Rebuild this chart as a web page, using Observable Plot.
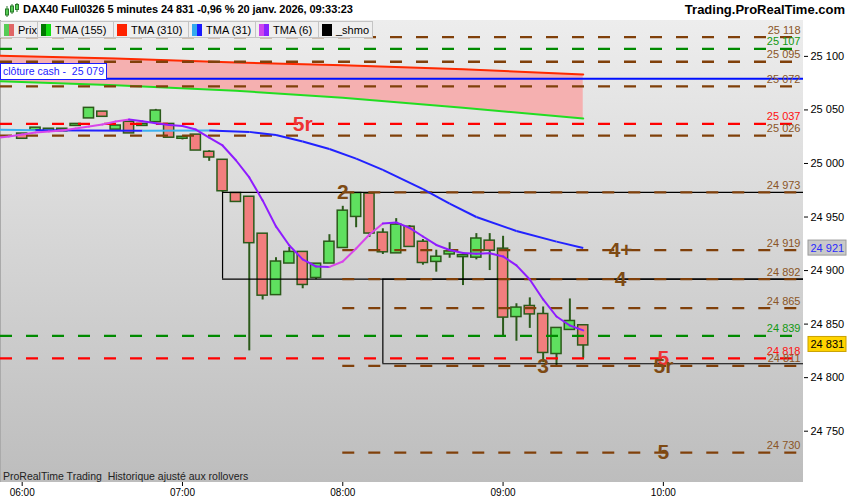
<!DOCTYPE html>
<html><head><meta charset="utf-8">
<script src="https://cdn.jsdelivr.net/npm/d3@7"></script>
<script src="https://cdn.jsdelivr.net/npm/@observablehq/plot@0.6"></script>
<style>
body{margin:0;background:#fff;font-family:"Liberation Sans",Arial,sans-serif;}
#wrap{position:relative;width:850px;height:500px;overflow:hidden;}
#hdr{height:20px;position:relative;background:#fff;font-weight:bold;color:#000;}
#hdr .t{position:absolute;left:23px;top:3px;font-size:11px;letter-spacing:-0.08px;}
#hdr .r{position:absolute;right:5px;top:2px;font-size:13px;}
#hdr svg{position:absolute;left:4px;top:3px;}
#legend{position:absolute;left:0;top:21px;height:18px;display:flex;}
#legend .b{height:17px;border:1px solid #c4c4c4;border-left:none;background:#efefef;font-size:11px;display:flex;align-items:center;padding:0 0 0 3px;box-sizing:border-box;white-space:nowrap;}
#legend .b:first-child{border-left:1px solid #c4c4c4;}
#legend .sw{width:10px;height:12px;margin-right:4px;display:flex;flex:none;}
#legend .sw i{flex:1;display:block;}
#cash{position:absolute;left:0;top:63px;height:15px;line-height:15px;border:1px solid #1c1cff;background:#fff;color:#1c1cff;font-size:10.5px;padding:0 2px 0 2px;white-space:pre;}
#foot{position:absolute;left:3px;top:470px;font-size:10.5px;color:#222;white-space:pre;}
</style></head><body>
<div id="wrap">
 <div id="hdr">
  <svg width="16" height="15"><g stroke="#2a7a2a" stroke-width="1"><line x1="3" y1="3" x2="3" y2="14"/><line x1="8" y1="1" x2="8" y2="11"/><line x1="13" y1="0" x2="13" y2="9"/></g><rect x="1.5" y="6" width="3" height="6" fill="#55cc55" stroke="#2a7a2a"/><rect x="6.5" y="3" width="3" height="6" fill="#55cc55" stroke="#2a7a2a"/><rect x="11.5" y="1.5" width="3" height="5" fill="#55cc55" stroke="#2a7a2a"/></svg>
  <span class="t">DAX40 Full0326 5 minutes 24 831 -0,96 % 20 janv. 2026, 09:33:23</span>
  <span class="r">Trading.ProRealTime.com</span>
 </div>
 <div id="chart"></div>
 <div id="legend"></div>
 <div id="cash">clôture cash -  25 079</div>
 <div id="foot">ProRealTime Trading  Historique ajusté aux rollovers</div>
</div>
<script>
// ---------- data ----------
const barTimes = ["06:00","06:05","06:10","06:15","06:20","06:25","06:30","06:35","06:40","06:45","06:50","06:55",
 "07:00","07:05","07:10","07:15","07:20","07:25","07:30","07:35","07:40","07:45","07:50","07:55",
 "08:00","08:05","08:10","08:15","08:20","08:25","08:30","08:35","08:40","08:45","08:50","08:55",
 "09:00","09:05","09:10","09:15","09:20","09:25","09:30"];
const opens  = [25027,25032,25031,25031.5,25036,25043,25047.5,25032.5,25038,25036,25039.5,25036,
 25024,25026,25010,25002.5,24971.5,24968,24933.5,24878,24907.5,24916.5,24894,24907.5,
 24922,24951,24971,24934.5,24917,24940,24926,24909,24916,24913.5,24913,24927,
 24919.5,24857.5,24866,24858.5,24823,24845.5,24848];
const highs  = [25027.5,25033.5,25032.5,25032.5,25036.5,25051,25047.5,25034.5,25038,25036.5,25050.5,25036,
 25024,25026,25012,25002.5,24971.5,24968,24933.5,24912,24921.5,24916.5,24905.5,24933.5,
 24960,24972,24972,24939,24948.5,24942,24929,24919,24926,24914,24934.5,24934.5,
 24932,24869,24874.5,24866,24846,24873.5,24848];
const lows   = [25023.5,25031,25030,25030.5,25035.5,25043,25044.5,25032.5,25029,25035.5,25039.5,25025,
 25022,25013,25002,24973,24964,24825,24872.5,24878,24907.5,24883,24891.5,24907.5,
 24922,24940,24931,24915,24916.5,24923,24905,24898.5,24911.5,24886,24910,24900,
 24838,24834,24846,24814,24809.5,24845.5,24818];
const closes = [25024,25032.5,25031.5,25031,25036,25051,25044.5,25034.5,25029,25036,25048.5,25025,
 25024,25013,25006.5,24975,24965,24926.5,24877.5,24907.5,24916.5,24887.5,24905.5,24926,
 24955,24971.5,24935.5,24918,24942,24923,24908,24912,24917,24913.5,24929,24919.5,
 24857,24864.5,24860,24824,24845.5,24852,24831];

// TMA (310) and TMA (155)
const longMaTimes = ["05:50","06:35","07:20","08:00","08:45","09:30"];
const tma310 = [25100.8,25098,25094.3,25091.8,25088,25083.1];
const tma155 = [25077,25073.1,25067.9,25061.3,25052,25042];

// TMA (31): colour flag of the segment starting at each point (L = rising/light, B = falling)
const tma31Times = ["05:50","06:05","06:45","07:10","07:25","07:35","07:45","07:55","08:05","08:15","08:30","08:40","08:50","09:05","09:20","09:30"];
const tma31 = [25031.5,25031,25030.5,25030.8,25029.5,25026.5,25020.5,25013.5,25004.5,24994,24976,24962.5,24950,24937,24927,24921];
const tma31Flag = ["L","B","L","B","B","B","B","B","B","B","B","B","B","B","B","B"];

// TMA (6)
const tma6Times = ["05:50","05:55",...barTimes];
const tma6 = [25023.8,25025.2,25027.1,25029,25029.9,25030.8,25032.7,25034.5,25036.4,25039.2,25041.1,25039.4,25037.6,25035.9,
 25035,25031.7,25024.2,25016.8,25003,24987,24965.5,24941.2,24923.4,24910.4,24903.8,24903.4,
 24908.5,24920.6,24933.7,24944,24944.9,24939.8,24931.8,24923.9,24919.2,24916.4,24915.7,24916.1,
 24913.2,24904.8,24891.7,24873,24857.1,24848.7,24844.1];
const tma6Flag = ["L","L","L","L","L","L","L","L","L","L","B","B","B","B","B","B","B","B","B","B","B","B","B","B","B",
 "L","L","L","L","B","B","B","B","B","B","B","B","B","B","B","B","B","B","B","B"];

// horizontal levels
const levelPrices = [25118,25107,25095,25072,25037,25026,24973,24919,24892,24865,24839,24818,24811,24730];
const levelKinds  = ["brown","green","brown","brown","red","brown","brown","brown","brown","brown","green","red","brown","brown"];
const levelStarts = [null,null,null,null,null,null,"08:00","08:00","08:00","08:00",null,null,"08:00","08:00"];
const cashClose = 25079;

// _shmo boxes
const boxStarts = ["07:15","08:15"];
const boxTops = [24973,24892];
const boxBottoms = [24892,24813];

// annotations
const annLabels = ["2","3","4+","4","5","5r","5","5r"];
const annTimes  = ["08:00","09:15","09:44","09:44","10:00","10:00","10:00","07:45"];
const annPrices = [24973,24811,24919,24892,24818,24811,24730,25037];
const annKinds  = ["brown","brown","brown","brown","red","brown","brown","red"];

// price tags on the axis
const tagValues = [24921,24831];
const tagKinds = ["ma","last"];

const yTicks = [24750,24800,24850,24900,24950,25000,25050,25100];
const xTicks = ["06:00","07:00","08:00","09:00","10:00"];

// legend
const legendLabels = ["Prix","TMA (155)","TMA (310)","TMA (31)","TMA (6)","_shmo"];
const legendColors = [["#55cc55","#e06666"],["#007700","#11dd11"],["#ff2200"],["#33aaee","#1a1aff"],["#cc44ee","#8822ff"],["#000000"]];
const legendWidths = [38,76,75,67,63,54];

// ---------- helpers ----------
const T = s => { const [h,m,sec] = s.split(":").map(Number); return new Date(Date.UTC(2026,0,20,h,m,sec||0)); };
const fmt = v => d3.format(",")(Math.round(v)).replace(/,/g, " ");
const xDomain = [T("05:51:53"), T("10:52:27")];
const yDomain = [24702.1, 25133.5];
const dashColor = {brown:"#80400a", green:"#008a00", red:"#ff0000"};
const labColor = {brown:"#8a5526", green:"#119911", red:"#ff1010"};
const annColor = {brown:"#7e4a14", red:"#ee3333"};

const bars = barTimes.map((t,i) => ({t:T(t), o:opens[i], h:highs[i], l:lows[i], c:closes[i]}));
const longMa = longMaTimes.map((t,i) => ({t:T(t), r:tma310[i], g:tma155[i]}));
const segs = (times, vals, flags, cL, cB) => times.slice(0,-1).map((t,i) => ({
  t1:T(t), v1:vals[i], t2:T(times[i+1]), v2:vals[i+1], c: flags[i]==="L" ? cL : cB}));
const seg31 = segs(tma31Times, tma31, tma31Flag, "#3cb0f0", "#2222ff");
const seg6 = segs(tma6Times, tma6, tma6Flag, "#d846ea", "#8f1cff");
const levels = levelPrices.map((p,i) => ({p, k:levelKinds[i], s: levelStarts[i] ? T(levelStarts[i]) : xDomain[0]}));
const boxes = boxStarts.map((s,i) => ({s:T(s), top:boxTops[i], bot:boxBottoms[i]}));
const anns = annLabels.map((l,i) => ({l, t:T(annTimes[i]), p:annPrices[i], k:annKinds[i]}));

function background(index, scales, values, dims) {
  const g = d3.create("svg:g");
  const gr = g.append("defs").append("linearGradient").attr("id","bgGrad").attr("x1",0).attr("y1",0).attr("x2",0).attr("y2",1);
  gr.append("stop").attr("offset","0%").attr("stop-color","#ededed");
  gr.append("stop").attr("offset","100%").attr("stop-color","#bdbdbd");
  g.append("rect").attr("x",dims.marginLeft).attr("y",dims.marginTop)
   .attr("width",dims.width-dims.marginLeft-dims.marginRight)
   .attr("height",dims.height-dims.marginTop-dims.marginBottom).attr("fill","url(#bgGrad)");
  g.append("line").attr("x1",dims.marginLeft+0.5).attr("x2",dims.marginLeft+0.5).attr("y1",0).attr("y2",dims.height-dims.marginBottom).attr("stroke","#aaa");
  return g.node();
}
function priceTags(index, scales, values, dims) {
  const g = d3.create("svg:g").attr("text-anchor","start");
  const x0 = dims.width - dims.marginRight + 5;
  tagValues.forEach((v,i) => {
    const y = scales.y(v);
    const last = tagKinds[i] === "last";
    g.append("rect").attr("x",x0).attr("y",y-7.5).attr("width",38).attr("height",15)
     .attr("fill", last ? "#ffd400" : "#c9c9c9").attr("stroke", last ? "#c9a000" : "#9a9a9a");
    g.append("text").attr("x",x0+2.5).attr("y",y).attr("dy","0.36em").attr("font-size",11).attr("text-anchor","start")
     .attr("fill", last ? "#000" : "#2a2aff").text(fmt(v));
  });
  return g.node();
}

const chart = Plot.plot({
  width: 850, height: 480,
  marginTop: 0, marginBottom: 18, marginLeft: 0, marginRight: 47,
  style: {fontFamily: "Liberation Sans, Arial, sans-serif", fontSize: "11px", background: "transparent", overflow: "visible"},
  x: {type: "utc", domain: xDomain},
  y: {domain: yDomain},
  marks: [
    background,
    Plot.areaY(longMa, {x:"t", y1:"g", y2:"r", fill:"#f5b0b0", clip:true}),
    Plot.line(longMa, {x:"t", y:"r", stroke:"#ff2a00", strokeWidth:2, clip:true}),
    Plot.line(longMa, {x:"t", y:"g", stroke:"#22dd22", strokeWidth:2, clip:true}),
    Plot.ruleX(bars, {x:"t", y1:"l", y2:"h", stroke:"#2b5a1a", strokeWidth:2}),
    Plot.rect(bars, {x1: d => new Date(+d.t - 150000), x2: d => new Date(+d.t + 150000),
      y1: d => Math.min(d.o,d.c), y2: d => Math.max(d.o,d.c),
      insetLeft:1.6, insetRight:1.6, insetTop:-1, insetBottom:-1,
      fill: d => d.c >= d.o ? "#5fe05f" : "#f27e7e", stroke:"#2b5a1a", strokeWidth:1.5}),
    Plot.ruleY(boxes, {x1:"s", x2: xDomain[1], y:"top", stroke:"#000", strokeWidth:1.2}),
    Plot.ruleY(boxes, {x1:"s", x2: xDomain[1], y:"bot", stroke:"#000", strokeWidth:1.2}),
    Plot.ruleX(boxes, {x:"s", y1:"bot", y2:"top", stroke:"#000", strokeWidth:1.2}),
    Plot.ruleY(levels, {y:"p", x1:"s", x2: xDomain[1], stroke: d => dashColor[d.k], strokeWidth:2.3, strokeDasharray:"12,14"}),
    Plot.ruleY([cashClose], {stroke:"#0010ff", strokeWidth:2}),
    Plot.link(seg31, {x1:"t1", y1:"v1", x2:"t2", y2:"v2", stroke:"c", strokeWidth:2, clip:true}),
    Plot.link(seg6, {x1:"t1", y1:"v1", x2:"t2", y2:"v2", stroke:"c", strokeWidth:2, strokeLinecap:"round", clip:true}),
    Plot.text(levels, {x: xDomain[1], y:"p", text: d => fmt(d.p), textAnchor:"end", dx:-3, dy:-7,
      fill: d => labColor[d.k], fontSize:11, fontWeight: d => d.p === 25037 ? "bold" : "normal"}),
    Plot.text(anns, {x:"t", y:"p", text:"l", fill: d => annColor[d.k], fontSize:21, fontWeight:"bold"}),
    Plot.axisY({anchor:"right", ticks:yTicks, tickFormat:fmt, tickSize:4, tickPadding:3, fontSize:11}),
    Plot.axisX({ticks: xTicks.map(T), tickFormat: d3.utcFormat("%H:%M"), tickSize:4, tickPadding:2, fontSize:10}),
    priceTags
  ]
});
document.getElementById("chart").appendChild(chart);

const leg = d3.select("#legend");
legendLabels.forEach((label,i) => {
  const b = leg.append("div").attr("class","b").style("width", legendWidths[i] + "px");
  const sw = b.append("span").attr("class","sw");
  legendColors[i].forEach(c => sw.append("i").style("background", c));
  b.append("span").text(label);
});
</script>
</body></html>
